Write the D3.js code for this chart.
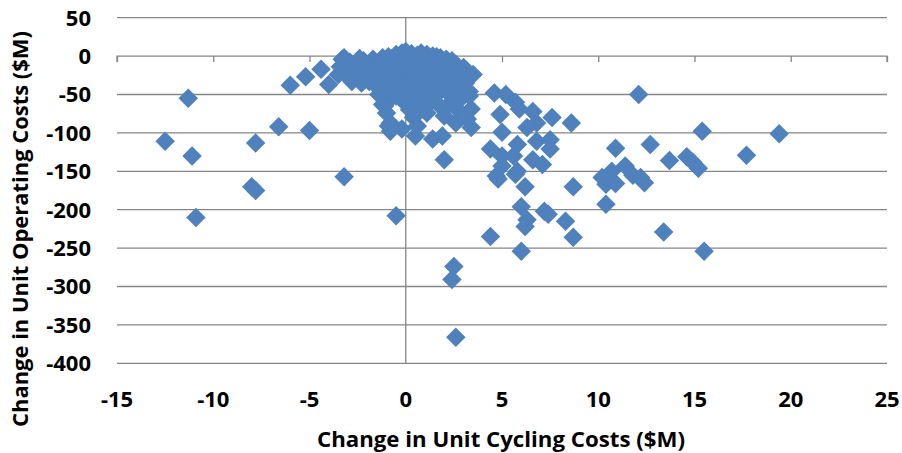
<!DOCTYPE html>
<html>
<head>
<meta charset="utf-8">
<script src="https://cdnjs.cloudflare.com/ajax/libs/d3/7.8.5/d3.min.js"></script>
<style>
	body { margin: 0; background: #fff; }
	text { font-family: "Open Sans", "Liberation Sans", sans-serif; font-weight: bold; fill: #000; }
	.grid line { stroke: #868686; stroke-width: 1.3; }
</style>
</head>
<body>
<div id="chart"></div>
<script>
// change in unit cycling costs ($M)
var cycling = [
	-12.5, -11.3, -11.1, -10.9, -8.0, -7.8, -7.8, -6.6, -6.0, -5.2, -5.0, -4.4, -4.0, -3.2, -3.2, -0.5,
	-3.3, -2.6, -1.7, -0.5, 0.0, 1.1, 2.1, 2.6, 3.2, 3.5,
	-2.9, -2.2, -1.2, -0.9, 0.3, 0.6, 1.4, 1.8, -2.4, -0.2, 0.8, 1.6, 2.4, -3.0,
	-3.4, -2.9, -2.4, -2.0, -1.5, -1.1, -0.7, -0.3, 0.2, 0.6, 1.0, 1.4, 1.8, 2.2, 2.6, 3.0,
	-3.1, -2.7, -2.3, -1.8, -1.3, -0.9, -0.5, 0.0, 0.4, 0.9, 1.3, 1.7, 2.1, 2.4,
	-3.5, -3.0, -2.5, -2.1, -1.6, -1.2, -0.7, -0.3, 0.1, 0.5, 1.1, 1.4, 2.1, 2.5, 2.9,
	-2.8, -2.3, -1.9, -1.4, -0.9, -0.5, 0.0, 0.4, 0.8, 1.3, 1.7, 2.0, 2.6, 3.1,
	-1.6, -1.1, -0.4, 0.1, 0.6, 1.1, 1.8, 2.3, 2.9, 3.3,
	-1.0, -0.3, 0.3, 0.8, 1.5, 2.2, 2.6,
	-0.9, 0.0, 0.8, 1.3, 2.2, 2.7, 0.2, 2.0,
	-1.4, -1.1, -0.8, -0.8, -0.2, 0.6, 0.5, 1.4, 1.9, 2.0, 2.6, 3.2, 3.4, 1.1, 1.7, 0.4, 1.2, -0.5, 2.8, 3.3,
	-1.2, -1.0, 0.4, 3.4, -0.9,
	4.6, 5.2, 5.7, 5.9, 4.9, 6.6, 6.8, 6.3, 7.6, 8.6, 5.0, 5.8, 6.8, 7.5, 7.5, 4.4, 5.0, 5.6, 6.6, 7.1, 5.0, 5.8, 4.7, 4.8,
	5.7, 6.2, 8.7, 6.0, 7.2, 7.4, 6.3, 6.2, 8.3, 8.7, 4.4, 6.0, 2.5, 2.4, 2.6,
	12.1, 15.4, 19.4, 10.9, 12.7, 13.7, 14.6, 15.2, 14.9, 17.7, 10.2, 10.7, 11.4, 11.8, 12.4, 10.4, 10.9, 10.4, 13.4, 15.5, 12.2
];
// change in unit operating costs ($M)
var operating = [
	-111, -55, -130, -210, -170, -175, -113, -92, -38, -27, -97, -17, -37, -157, -2, -208,
	-4, -12, -4, 2, 6, 2, -4, -11, -20, -24,
	-8, -6, -2, -1, 3, 1, 0, -2, -3, 4, 4, -1, -6, -10,
	-14, -16, -11, -15, -10, -13, -9, -12, -8, -14, -10, -7, -12, -16, -18, -15,
	-19, -20, -18, -20, -18, -19, -17, -15, -18, -17, -19, -20, -22, -25,
	-24, -27, -22, -30, -24, -28, -22, -30, -20, -26, -24, -30, -27, -33, -28,
	-33, -35, -33, -32, -34, -32, -34, -31, -33, -35, -34, -33, -36, -35,
	-37, -42, -38, -44, -36, -40, -45, -38, -42, -46,
	-48, -46, -49, -46, -50, -48, -50,
	-58, -62, -65, -60, -64, -70, -70, -78,
	-50, -65, -87, -98, -95, -91, -104, -108, -104, -135, -87, -82, -93, -74, -63, -57, -52, -52, -57, -52,
	-63, -74, -80, -69, -91,
	-48, -50, -60, -69, -76, -72, -87, -93, -80, -87, -99, -115, -111, -109, -121, -121, -130, -130, -135, -141, -143, -150, -156, -160,
	-154, -170, -170, -196, -202, -206, -213, -222, -215, -236, -235, -254, -274, -291, -366,
	-50, -98, -101, -120, -115, -136, -131, -146, -138, -129, -158, -150, -143, -155, -165, -167, -166, -193, -229, -254, -158
];
var xTicks = [-15, -10, -5, 0, 5, 10, 15, 20, 25];
var yTicks = [50, 0, -50, -100, -150, -200, -250, -300, -350, -400];

var width = 902, height = 453;
var plot = {left: 117, right: 887, top: 17.7, bottom: 363.3};

var x = d3.scaleLinear().domain([-15, 25]).range([plot.left, plot.right]);
var y = d3.scaleLinear().domain([-400, 50]).range([plot.bottom, plot.top]);

var svg = d3.select("#chart").append("svg")
	.attr("width", width)
	.attr("height", height);

// horizontal gridlines
svg.append("g")
	.attr("class", "grid")
	.selectAll("line")
	.data(yTicks.filter(function(d) { return d !== 0; }))
	.enter().append("line")
	.attr("x1", plot.left)
	.attr("x2", plot.right)
	.attr("y1", function(d) { return y(d); })
	.attr("y2", function(d) { return y(d); });

// vertical axis line through x = 0
svg.append("g")
	.attr("class", "grid")
	.append("line")
	.attr("x1", x(0)).attr("x2", x(0))
	.attr("y1", plot.top).attr("y2", plot.bottom);

// horizontal axis through y = 0, ticks pointing down
var xAxis = svg.append("g")
	.attr("transform", "translate(0," + y(0) + ")")
	.call(d3.axisBottom(x).tickValues(xTicks).tickSize(6).tickFormat(""));
xAxis.select(".domain").attr("d", "M" + plot.left + ",6V0H" + plot.right + "V6")
	.attr("stroke", "#868686").attr("stroke-width", 1.3);
xAxis.selectAll(".tick line").attr("stroke", "#868686").attr("stroke-width", 1.3);

// tick labels
svg.append("g").selectAll("text")
	.data(xTicks)
	.enter().append("text")
	.attr("x", function(d) { return x(d); })
	.attr("y", 399)
	.attr("dy", "0.36em")
	.attr("text-anchor", "middle")
	.style("font-size", "22px")
	.text(function(d) { return d; });

svg.append("g").selectAll("text")
	.data(yTicks)
	.enter().append("text")
	.attr("x", 91)
	.attr("y", function(d) { return y(d); })
	.attr("dy", "0.36em")
	.attr("text-anchor", "end")
	.style("font-size", "22px")
	.text(function(d) { return d; });

// markers
var diamond = d3.symbol().type(d3.symbolSquare).size(190);
svg.append("g").selectAll("path")
	.data(cycling)
	.enter().append("path")
	.attr("d", diamond)
	.attr("fill", "#4f81bd")
	.attr("transform", function(d, i) {
		return "translate(" + x(d) + "," + y(operating[i]) + ") rotate(45)";
	});

// axis titles
svg.append("text")
	.attr("x", 501)
	.attr("y", 447)
	.attr("text-anchor", "middle")
	.attr("textLength", 368)
	.attr("lengthAdjust", "spacingAndGlyphs")
	.style("font-size", "21px")
	.text("Change in Unit Cycling Costs ($M)");

svg.append("text")
	.attr("transform", "translate(28,229) rotate(-90)")
	.attr("text-anchor", "middle")
	.attr("textLength", 396)
	.attr("lengthAdjust", "spacingAndGlyphs")
	.style("font-size", "21px")
	.text("Change in Unit Operating Costs ($M)");
</script>
</body>
</html>
